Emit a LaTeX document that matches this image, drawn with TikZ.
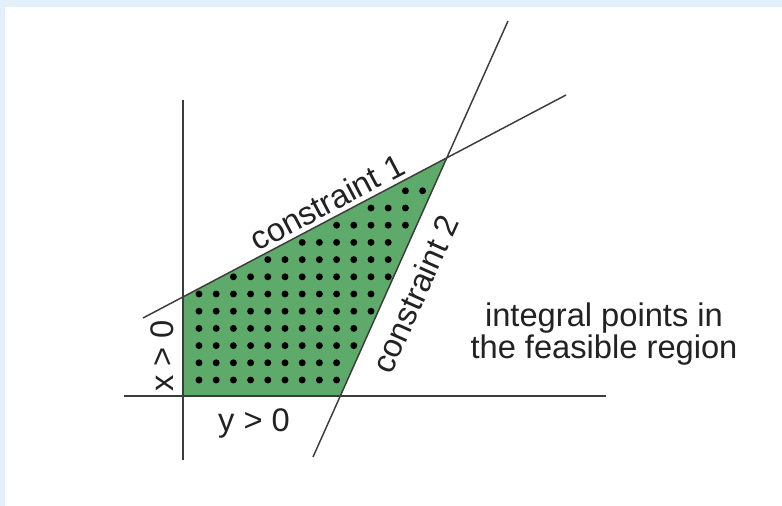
\documentclass[tikz,border=0pt]{standalone}
\usepackage{fontspec}
\setmainfont{Liberation Sans}
\definecolor{framebg}{RGB}{227,240,250}
\definecolor{feasgreen}{RGB}{94,170,106}
\definecolor{linegray}{RGB}{60,60,60}
\definecolor{textgray}{RGB}{34,34,34}
\begin{document}
\begin{tikzpicture}[x=0.75pt,y=-0.75pt,
  axisline/.style={draw=linegray,line width=1.1pt},
  lbl/.style={text=textgray,font=\fontsize{24.5}{23.8}\selectfont,inner sep=0pt},
  dotmark/.style={fill=black}]
\useasboundingbox (0,0) rectangle (782,506);
\fill[framebg] (0,0) rectangle (782,506);
\fill[white] (5,7) rectangle (782,506);
% axes and constraint lines end points
\coordinate (vtop) at (183,100);
\coordinate (vbot) at (183,460);
\coordinate (hleft) at (124,396);
\coordinate (hright) at (606,396);
\coordinate (c1a) at (143,318);
\coordinate (c1b) at (566,95);
\coordinate (c2a) at (508,21);
\coordinate (c2b) at (313,457);
\coordinate (O) at (intersection of vtop--vbot and hleft--hright);
\coordinate (P1) at (intersection of vtop--vbot and c1a--c1b);
\coordinate (Q) at (intersection of c1a--c1b and c2a--c2b);
\coordinate (P2) at (intersection of c2a--c2b and hleft--hright);
% feasible region
\fill[feasgreen] (O) -- (P1) -- (Q) -- (P2) -- cycle;
% integral points
\foreach \r/\a/\b in {0/0/8,1/0/8,2/0/9,3/0/9,4/0/10,5/0/10,6/2/11,7/4/11,8/6/11,9/8/12,10/10/12,11/12/13}{
  \foreach \c in {\a,...,\b}{
    \fill[dotmark] (199+17.2*\c,380-17.2*\r) circle (2.6pt);
  }
}
% lines
\draw[axisline] (vtop) -- (vbot);
\draw[axisline] (hleft) -- (hright);
\draw[axisline] (c1a) -- (c1b);
\draw[axisline] (c2a) -- (c2b);
% labels
\node[lbl,rotate=27.8] (c1label) at (327,202) {constraint 1};
\node[lbl,rotate=65.9] (c2label) at (415,294) {constraint 2};
\node[lbl,rotate=90] (xlabel) at (162,356) {x > 0};
\node[lbl,anchor=base] (ylabel) at (254,431) {y > 0};
\node[lbl,align=center] (note) at (604,334) {integral points in\\the feasible region};
\end{tikzpicture}
\end{document}
